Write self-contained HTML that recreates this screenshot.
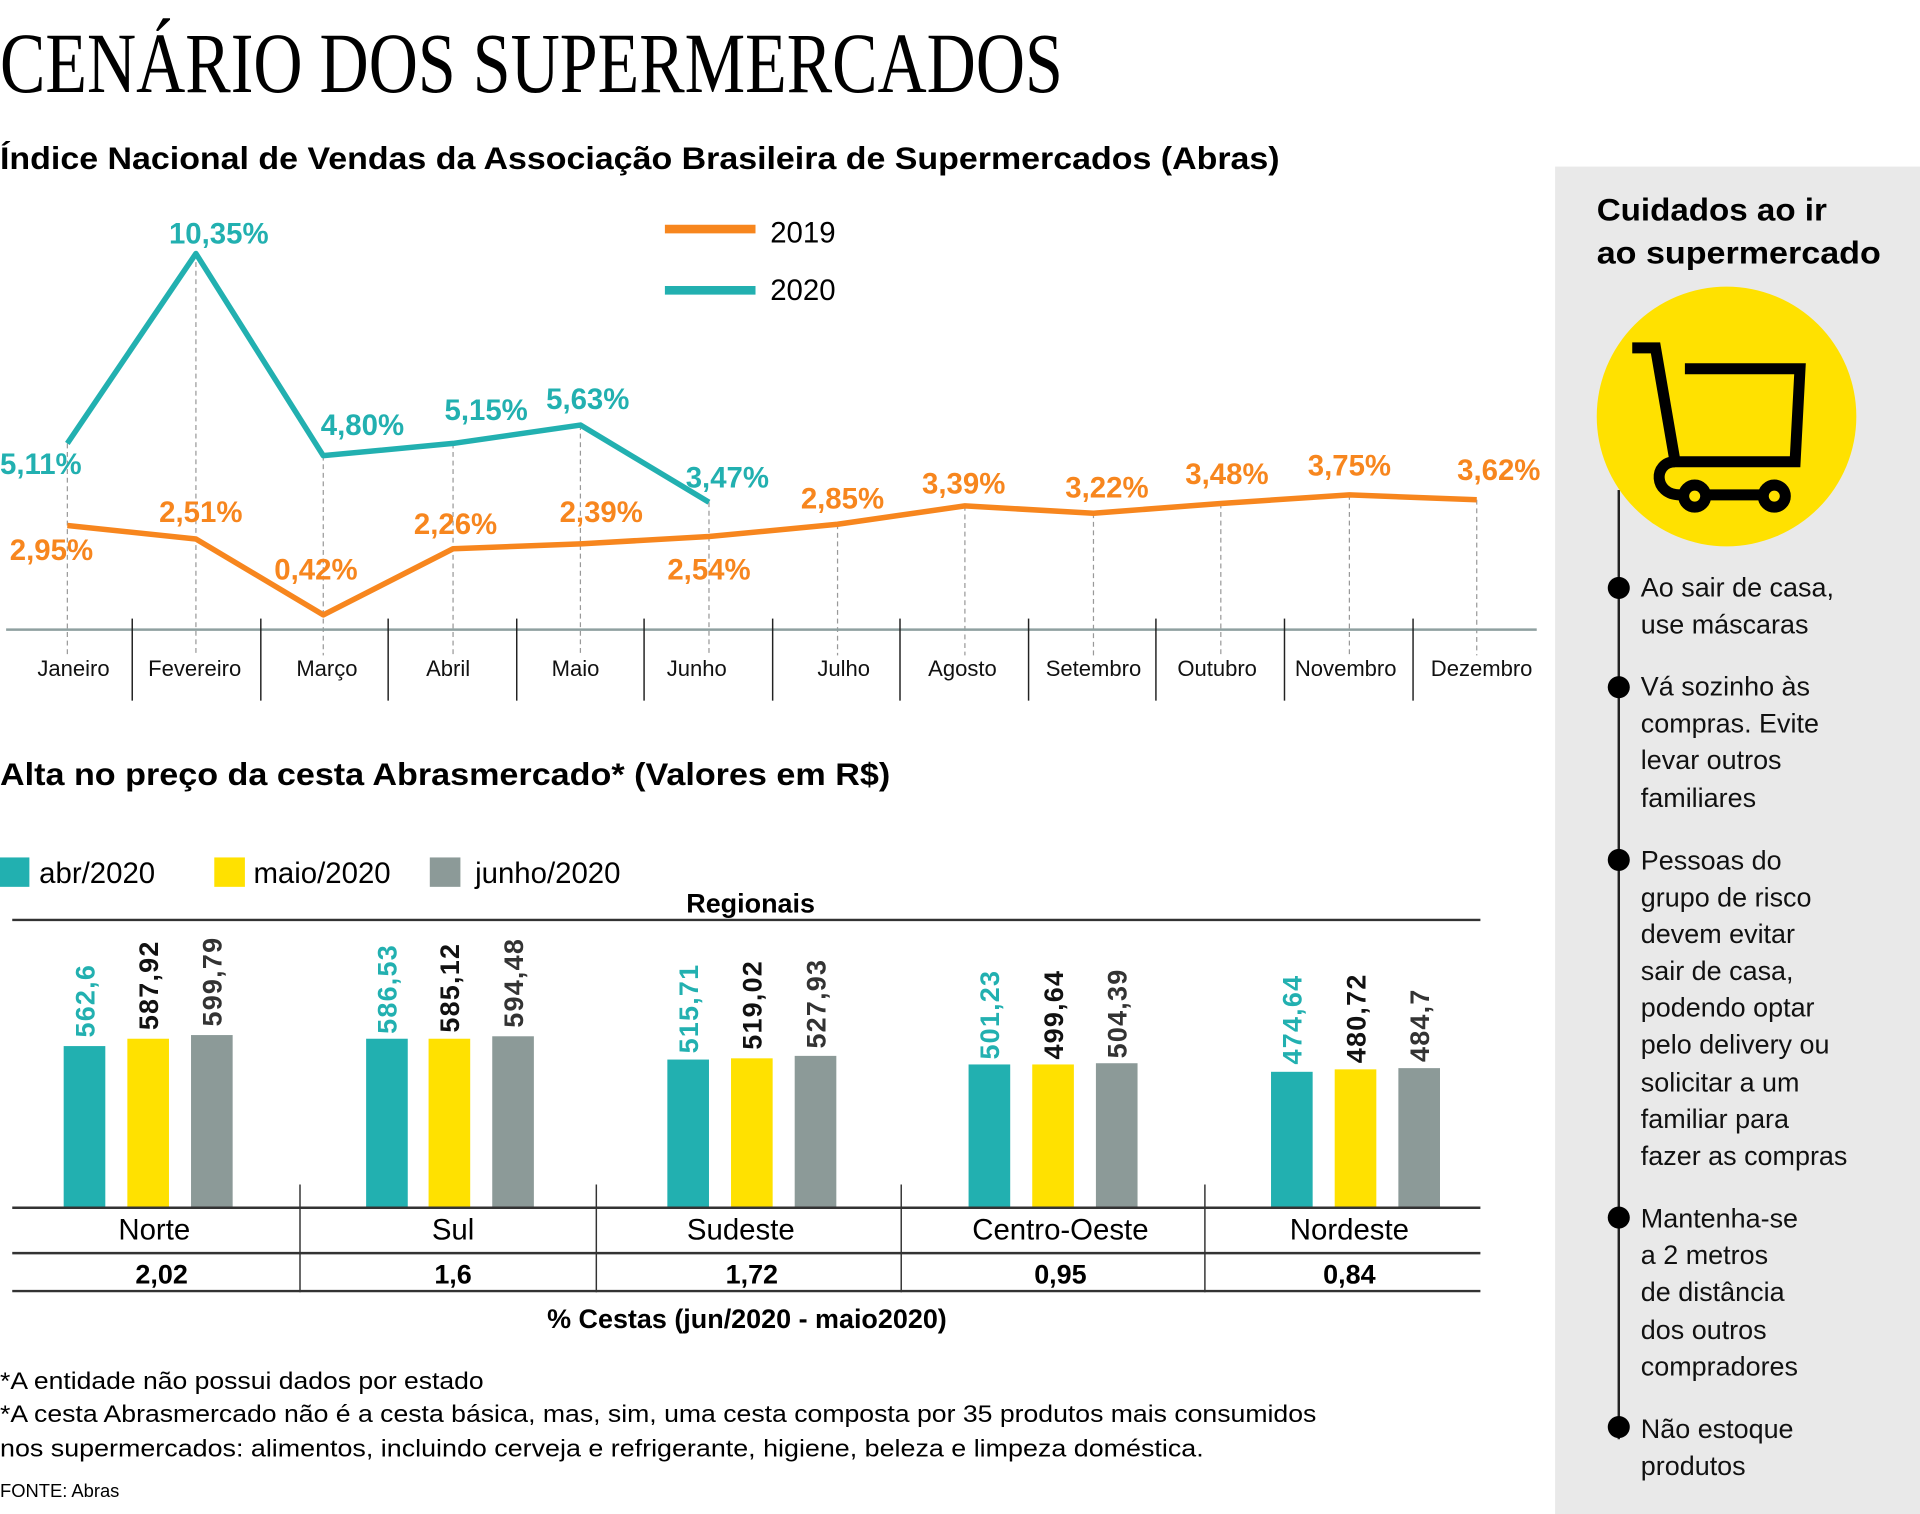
<!DOCTYPE html>
<html><head><meta charset="utf-8"><style>
html,body{margin:0;padding:0;background:#fff;}
svg{display:block;}
text{font-family:"Liberation Sans",sans-serif;}
.b{font-weight:bold;}
</style></head><body>
<svg width="1920" height="1514" viewBox="0 0 1568 1236" preserveAspectRatio="none" xmlns="http://www.w3.org/2000/svg">
<rect x="0" y="0" width="1568" height="1236" fill="#fff"/>
<!-- right panel -->
<rect x="1270" y="136" width="298" height="1100" fill="#e9e9e9"/>
<text x="0" y="75" font-family="Liberation Serif" font-size="70" textLength="868" lengthAdjust="spacingAndGlyphs" style="font-family:'Liberation Serif',serif">CENÁRIO DOS SUPERMERCADOS</text>
<text class="b" x="0" y="138" font-size="26" textLength="1045" lengthAdjust="spacingAndGlyphs">Índice Nacional de Vendas da Associação Brasileira de Supermercados (Abras)</text>

<text class="b" x="1304" y="180" font-size="26" textLength="188" lengthAdjust="spacingAndGlyphs">Cuidados ao ir</text>
<text class="b" x="1304" y="215" font-size="26" textLength="232" lengthAdjust="spacingAndGlyphs">ao supermercado</text>
<line x1="1322" y1="400" x2="1322" y2="1175" stroke="#222" stroke-width="2"/>
<circle cx="1410" cy="340" r="106" fill="#ffe100"/>
<g fill="none" stroke="#000" stroke-width="9">
<polyline points="1333,284 1352,284 1368,377 1466,377 1470,301 1376,301"/>
<path d="M1368,377 C1350,377 1350,404 1372,404 L1450,404"/>
<circle cx="1384" cy="405" r="9" fill="#ffe100"/>
<circle cx="1449" cy="405" r="9" fill="#ffe100"/>
</g>
<g fill="#000">
<circle cx="1322" cy="480" r="9"/><circle cx="1322" cy="561" r="9"/><circle cx="1322" cy="702" r="9"/><circle cx="1322" cy="994" r="9"/><circle cx="1322" cy="1165" r="9"/>
</g>
<g font-size="22" fill="#111">
<text x="1340" y="487">Ao sair de casa,</text><text x="1340" y="517">use máscaras</text>
<text x="1340" y="568">Vá sozinho às</text><text x="1340" y="598">compras. Evite</text><text x="1340" y="628">levar outros</text><text x="1340" y="659">familiares</text>
<text x="1340" y="710">Pessoas do</text><text x="1340" y="740">grupo de risco</text><text x="1340" y="770">devem evitar</text><text x="1340" y="800">sair de casa,</text><text x="1340" y="830">podendo optar</text><text x="1340" y="860">pelo delivery ou</text><text x="1340" y="891">solicitar a um</text><text x="1340" y="921">familiar para</text><text x="1340" y="951">fazer as compras</text>
<text x="1340" y="1002">Mantenha-se</text><text x="1340" y="1032">a 2 metros</text><text x="1340" y="1062">de distância</text><text x="1340" y="1093">dos outros</text><text x="1340" y="1123">compradores</text>
<text x="1340" y="1174">Não estoque</text><text x="1340" y="1204">produtos</text>
</g>

<!-- line chart -->
<g stroke="#999" stroke-width="1" stroke-dasharray="4,3">
<line x1="55" y1="362" x2="55" y2="535"/><line x1="160" y1="207" x2="160" y2="535"/><line x1="264" y1="372" x2="264" y2="535"/><line x1="370" y1="362" x2="370" y2="535"/><line x1="474" y1="347" x2="474" y2="535"/><line x1="579" y1="410" x2="579" y2="535"/><line x1="684" y1="428" x2="684" y2="535"/><line x1="788" y1="413" x2="788" y2="535"/><line x1="893" y1="419" x2="893" y2="535"/><line x1="997" y1="411" x2="997" y2="535"/><line x1="1102" y1="404" x2="1102" y2="535"/><line x1="1206" y1="408" x2="1206" y2="535"/>
</g>
<line x1="5" y1="514" x2="1255" y2="514" stroke="#8fa0a0" stroke-width="2"/>
<g stroke="#222" stroke-width="1.2">
<line x1="108" y1="505" x2="108" y2="572"/><line x1="213" y1="505" x2="213" y2="572"/><line x1="317" y1="505" x2="317" y2="572"/><line x1="422" y1="505" x2="422" y2="572"/><line x1="526" y1="505" x2="526" y2="572"/><line x1="631" y1="505" x2="631" y2="572"/><line x1="735" y1="505" x2="735" y2="572"/><line x1="840" y1="505" x2="840" y2="572"/><line x1="944" y1="505" x2="944" y2="572"/><line x1="1049" y1="505" x2="1049" y2="572"/><line x1="1154" y1="505" x2="1154" y2="572"/>
</g>
<g font-size="18" text-anchor="middle" fill="#111">
<text x="60" y="552">Janeiro</text><text x="159" y="552">Fevereiro</text><text x="267" y="552">Março</text><text x="366" y="552">Abril</text><text x="470" y="552">Maio</text><text x="569" y="552">Junho</text><text x="689" y="552">Julho</text><text x="786" y="552">Agosto</text><text x="893" y="552">Setembro</text><text x="994" y="552">Outubro</text><text x="1099" y="552">Novembro</text><text x="1210" y="552">Dezembro</text>
</g>
<polyline fill="none" stroke="#f7861e" stroke-width="4.5" stroke-linejoin="round" points="55,429 160,440 264,502 370,448 474,444 579,438 684,428 788,413 893,419 997,411 1102,404 1206,408"/>
<polyline fill="none" stroke="#22b0b0" stroke-width="4.5" stroke-linejoin="round" points="55,362 160,207 264,372 370,362 474,347 579,410"/>
<g class="b" font-size="24" fill="#f7861e" font-weight="bold">
<text x="8" y="457">2,95%</text><text x="130" y="426">2,51%</text><text x="224" y="473">0,42%</text><text x="338" y="436">2,26%</text><text x="457" y="426">2,39%</text><text x="545" y="473">2,54%</text><text x="654" y="415">2,85%</text><text x="753" y="403">3,39%</text><text x="870" y="406">3,22%</text><text x="968" y="395">3,48%</text><text x="1068" y="388">3,75%</text><text x="1190" y="392">3,62%</text>
</g>
<g font-size="24" fill="#22b0b0" font-weight="bold">
<text x="0" y="387">5,11%</text><text x="138" y="199">10,35%</text><text x="262" y="355">4,80%</text><text x="363" y="343">5,15%</text><text x="446" y="334">5,63%</text><text x="560" y="398">3,47%</text>
</g>
<line x1="543" y1="187" x2="617" y2="187" stroke="#f7861e" stroke-width="7"/>
<line x1="543" y1="237" x2="617" y2="237" stroke="#22b0b0" stroke-width="7"/>
<text x="629" y="198" font-size="24">2019</text>
<text x="629" y="245" font-size="24">2020</text>

<!-- bar chart -->
<text class="b" x="0" y="641" font-size="26" textLength="727" lengthAdjust="spacingAndGlyphs">Alta no preço da cesta Abrasmercado* (Valores em R$)</text>
<rect x="0" y="700" width="24" height="24" fill="#22b0b0"/><text x="32" y="721" font-size="24">abr/2020</text>
<rect x="175" y="700" width="25" height="24" fill="#ffe100"/><text x="207" y="721" font-size="24">maio/2020</text>
<rect x="351" y="700" width="25" height="24" fill="#8c9a98"/><text x="388" y="721" font-size="24">junho/2020</text>
<text class="b" x="613" y="745" font-size="22" text-anchor="middle">Regionais</text>
<line x1="10" y1="751" x2="1209" y2="751" stroke="#333" stroke-width="2"/>
<g>
<rect x="52" y="854" width="34" height="131" fill="#22b0b0"/><rect x="104" y="848" width="34" height="137" fill="#ffe100"/><rect x="156" y="845" width="34" height="140" fill="#8c9a98"/>
<rect x="299" y="848" width="34" height="137" fill="#22b0b0"/><rect x="350" y="848" width="34" height="137" fill="#ffe100"/><rect x="402" y="846" width="34" height="139" fill="#8c9a98"/>
<rect x="545" y="865" width="34" height="120" fill="#22b0b0"/><rect x="597" y="864" width="34" height="121" fill="#ffe100"/><rect x="649" y="862" width="34" height="123" fill="#8c9a98"/>
<rect x="791" y="869" width="34" height="116" fill="#22b0b0"/><rect x="843" y="869" width="34" height="116" fill="#ffe100"/><rect x="895" y="868" width="34" height="117" fill="#8c9a98"/>
<rect x="1038" y="875" width="34" height="110" fill="#22b0b0"/><rect x="1090" y="873" width="34" height="112" fill="#ffe100"/><rect x="1142" y="872" width="34" height="113" fill="#8c9a98"/>
</g>
<g font-size="22" font-weight="bold" letter-spacing="1">
<text transform="translate(77,847) rotate(-90)" fill="#22b0b0">562,6</text>
<text transform="translate(129,841) rotate(-90)" fill="#111">587,92</text>
<text transform="translate(181,838) rotate(-90)" fill="#333">599,79</text>
<text transform="translate(324,844) rotate(-90)" fill="#22b0b0">586,53</text>
<text transform="translate(375,843) rotate(-90)" fill="#111">585,12</text>
<text transform="translate(427,839) rotate(-90)" fill="#333">594,48</text>
<text transform="translate(570,860) rotate(-90)" fill="#22b0b0">515,71</text>
<text transform="translate(622,857) rotate(-90)" fill="#111">519,02</text>
<text transform="translate(674,856) rotate(-90)" fill="#333">527,93</text>
<text transform="translate(816,865) rotate(-90)" fill="#22b0b0">501,23</text>
<text transform="translate(868,865) rotate(-90)" fill="#111">499,64</text>
<text transform="translate(920,864) rotate(-90)" fill="#333">504,39</text>
<text transform="translate(1063,869) rotate(-90)" fill="#22b0b0">474,64</text>
<text transform="translate(1115,868) rotate(-90)" fill="#111">480,72</text>
<text transform="translate(1167,867) rotate(-90)" fill="#333">484,7</text>
</g>
<g stroke="#333">
<line x1="245" y1="967" x2="245" y2="1055" stroke-width="1.2"/><line x1="487" y1="967" x2="487" y2="1055" stroke-width="1.2"/><line x1="736" y1="967" x2="736" y2="1055" stroke-width="1.2"/><line x1="984" y1="967" x2="984" y2="1055" stroke-width="1.2"/>
<line x1="10" y1="986" x2="1209" y2="986" stroke-width="2"/><line x1="10" y1="1023" x2="1209" y2="1023" stroke-width="2"/><line x1="10" y1="1054" x2="1209" y2="1054" stroke-width="2"/>
</g>
<g font-size="24" text-anchor="middle">
<text x="126" y="1012">Norte</text><text x="370" y="1012">Sul</text><text x="605" y="1012">Sudeste</text><text x="866" y="1012">Centro-Oeste</text><text x="1102" y="1012">Nordeste</text>
</g>
<g font-size="22" font-weight="bold" text-anchor="middle">
<text x="132" y="1048">2,02</text><text x="370" y="1048">1,6</text><text x="614" y="1048">1,72</text><text x="866" y="1048">0,95</text><text x="1102" y="1048">0,84</text>
</g>
<text x="610" y="1084" font-size="22" font-weight="bold" text-anchor="middle">% Cestas (jun/2020 - maio2020)</text>
<text x="0" y="1134" font-size="20" textLength="395" lengthAdjust="spacingAndGlyphs">*A entidade não possui dados por estado</text>
<text x="0" y="1161" font-size="20" textLength="1075" lengthAdjust="spacingAndGlyphs">*A cesta Abrasmercado não é a cesta básica, mas, sim, uma cesta composta por 35 produtos mais consumidos</text>
<text x="0" y="1189" font-size="20" textLength="983" lengthAdjust="spacingAndGlyphs">nos supermercados: alimentos, incluindo cerveja e refrigerante, higiene, beleza e limpeza doméstica.</text>
<text x="0" y="1222" font-size="15">FONTE: Abras</text>
</svg>
</body></html>
